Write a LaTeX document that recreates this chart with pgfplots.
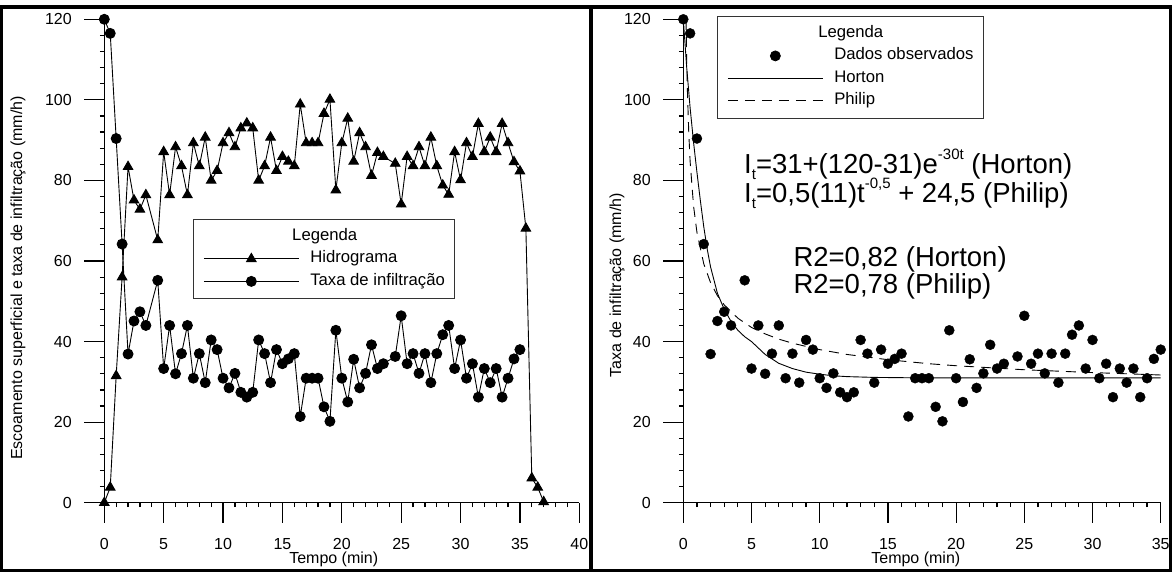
\documentclass[border=0pt]{standalone}
\usepackage{fontspec}
\setmainfont{Liberation Sans}
\usepackage{pgfplots}
\pgfplotsset{compat=1.18}
\usepackage{pgfplotstable}

\pgfplotstableread{
t y
0 120
0.5 116.5
1 90.4
1.5 64.2
2 36.9
2.5 45.1
3 47.4
3.5 44
4.5 55.2
5 33.3
5.5 44
6 32
6.5 37
7 44
7.5 30.9
8 37
8.5 29.8
9 40.4
9.5 38
10 30.9
10.5 28.5
11 32.1
11.5 27.4
12 26.2
12.5 27.4
13 40.4
13.5 37
14 29.8
14.5 38
15 34.5
15.5 35.7
16 37
16.5 21.4
17 30.9
17.5 30.9
18 30.9
18.5 23.8
19 20.2
19.5 42.8
20 30.9
20.5 25
21 35.6
21.5 28.5
22 32.1
22.5 39.2
23 33.3
23.5 34.5
24.5 36.3
25 46.4
25.5 34.5
26 37
26.5 32.1
27 37
27.5 29.8
28 37
28.5 41.7
29 44
29.5 33.3
30 40.4
30.5 30.9
31 34.5
31.5 26.2
32 33.3
32.5 29.8
33 33.3
33.5 26.2
34 30.9
34.5 35.7
35 38
}\infil

\pgfplotstableread{
t y
0 0
0.5 3.8
1 31.5
1.5 56
2 83.4
2.5 75.1
3 72.8
3.5 76.4
4.5 65.2
5 87.1
5.5 76.4
6 88.3
6.5 83.6
7 76.4
7.5 89.3
8 83.6
8.5 90.7
9 80
9.5 82.4
10 89.3
10.5 91.8
11 88.3
11.5 93
12 94.2
12.5 93
13 80
13.5 83.6
14 90.7
14.5 82.4
15 85.9
15.5 84.7
16 83.6
16.5 98.9
17 89.3
17.5 89.3
18 89.3
18.5 96.6
19 100.1
19.5 77.6
20 89.3
20.5 95.4
21 84.7
21.5 91.8
22 88.3
22.5 81.2
23 86.9
23.5 85.9
24.5 84.2
25 74.1
25.5 85.9
26 83.6
26.5 88.3
27 83.6
27.5 90.7
28 83.6
28.5 78.8
29 76.5
29.5 87.1
30 80.1
30.5 89.3
31 85.9
31.5 94.1
32 87.1
32.5 90.7
33 87.1
33.5 94.1
34 89.3
34.5 84.6
35 82.3
35.5 68.1
36 6.1
36.5 3.8
37 0.2
}\hidro

\pgfplotstableread{
t y
0 120
0.25 108
0.5 98
0.75 89.5
1 82
1.25 75
1.5 68.5
1.75 63
2 58.5
2.5 52
3 48
3.5 45
4 42.8
4.5 41.2
5 40
6 36.8
7 34.6
8 33.3
9 32.4
10 31.9
11 31.5
12 31.3
14 31.1
17 31
35 31
}\horton

\pgfplotstableread{
t y
0.2 119.8
0.25 109.7
0.3 102.3
0.4 91.9
0.5 84.7
0.75 73.7
1 67.1
1.5 59.3
2 54.6
2.5 51.4
3 49.1
4 45.8
5 43.5
6 41.9
7 40.6
8 39.6
10 38.0
12 36.8
15 35.5
18 34.5
20 34.0
25 33.0
30 32.3
35 31.7
}\philip

\newcommand{\legbox}{\pgfpathrectangle{\pgfpoint{0pt}{-1pt}}{\pgfpoint{95pt}{2pt}}\pgfusepath{}}

\pgfplotsset{
  dotlegend/.style={
    legend image code/.code={
      \legbox
      \draw[mark repeat=2,mark phase=2,##1,draw=none] plot coordinates {(0pt,0pt) (47.5pt,0pt) (95pt,0pt)};
    },
  },
  common/.style={
    anchor=south west,
    scale only axis,
    height=483.4pt,
    ymin=0, ymax=120,
    ytick={0,20,...,120},
    axis x line*=bottom, axis y line*=left,
    axis line style={-, line width=1.2pt, black},
    every outer x axis line/.append style={-},
    every outer y axis line/.append style={-},
    tick align=outside,
    major tick length=20pt,
    minor tick length=4.5pt,
    every tick/.style={black, line width=1.2pt},
    minor tick num=4,
    tick label style={font=\fontsize{16}{19}\selectfont},
    label style={font=\fontsize{16}{19}\selectfont},
    /pgf/number format/assume math mode=true,
    xticklabel style={anchor=base, yshift=-27.3pt},
    yticklabel style={anchor=east, xshift=-9pt},
    xlabel={Tempo (min)},
    clip=false,
    legend cell align=left,
    legend image code/.code={
      \legbox
      \draw[mark repeat=2,mark phase=2,##1] plot coordinates {(0pt,0pt) (47.5pt,0pt) (95pt,0pt)};
    },
    legend style={
      anchor=north west,
      draw=black!80, line width=0.8pt, fill=white,
      inner xsep=10pt, inner ysep=9pt,
      row sep=6.5pt, column sep=11pt,
      font=\fontsize{16.7}{20}\selectfont,
      nodes={inner sep=0pt, text height=12pt, text depth=4pt},
    },
  },
}

\begin{document}
\begin{tikzpicture}[x=1pt,y=1pt]
\path[use as bounding box] (0,0) rectangle (1172,572);
\draw[line width=3.5pt] (1.7,1.7) rectangle (1170.3,564.8);
\draw[line width=4.3pt] (591.2,1.7) -- (591.2,564.8);

\begin{axis}[common,
  at={(104.3pt,69.3pt)}, width=475pt,
  xmin=0, xmax=40, xtick={0,5,...,40},
  xlabel style={at={(axis description cs:0.483,-0.1268)}, anchor=base},
  ylabel={Escoamento superficial e taxa de infiltração (mm/h)},
  ylabel style={at={(axis description cs:-0.1817,0.465)}, anchor=center},
  legend style={at={(axis description cs:0.1867,0.5869)}},
]
\addlegendimage{legend image code/.code={\legbox\node[overlay, anchor=west, inner sep=0pt, draw=none, fill=none] at (88pt,0pt) {Legenda};}}
\addlegendentry{}
\addplot[black, line width=0.9pt, mark=triangle*, mark size=5.5pt, mark options={solid, fill=black}] table {\hidro};
\addlegendentry{Hidrograma}
\addplot[black, line width=0.9pt, mark=*, mark size=5pt, mark options={solid, fill=black}] table {\infil};
\addlegendentry{Taxa de infiltração}
\end{axis}

\begin{axis}[common,
  at={(683.3pt,69.3pt)}, width=477.4pt,
  xmin=0, xmax=35, xtick={0,5,...,35},
  xlabel style={at={(axis description cs:0.487,-0.1268)}, anchor=base},
  ylabel={Taxa de infiltração (mm/h)},
  ylabel style={at={(axis description cs:-0.139,0.45)}, anchor=center},
  legend style={at={(axis description cs:0.0706,1.0068)}},
]
\addlegendimage{legend image code/.code={\legbox\node[overlay, anchor=west, inner sep=0pt, draw=none, fill=none] at (90pt,0pt) {Legenda};}}
\addlegendentry{}
\addplot[draw=none, mark=*, mark size=5pt, mark options={draw=black, fill=black}, dotlegend] table {\infil};
\addlegendentry{Dados observados}
\addplot[black, line width=0.9pt, no marks] table {\horton};
\addlegendentry{Horton}
\addplot[black, line width=0.9pt, no marks, dash pattern=on 10pt off 7pt] table {\philip};
\addlegendentry{Philip}
\end{axis}

\begin{scope}[every node/.style={anchor=base west, inner sep=0pt, font=\fontsize{27.5}{30}\selectfont}]
\node at (744,398.7) {I\raisebox{-0.22em}{\fontsize{15}{15}\selectfont t}=31+(120-31)e\raisebox{0.5em}{\fontsize{15}{15}\selectfont -30t} (Horton)};
\node at (744,369.3) {I\raisebox{-0.22em}{\fontsize{15}{15}\selectfont t}=0,5(11)t\raisebox{0.5em}{\fontsize{15}{15}\selectfont -0,5} + 24,5 (Philip)};
\node at (793.3,305.3) {R2=0,82 (Horton)};
\node at (793.3,278) {R2=0,78 (Philip)};
\end{scope}
\end{tikzpicture}
\end{document}
